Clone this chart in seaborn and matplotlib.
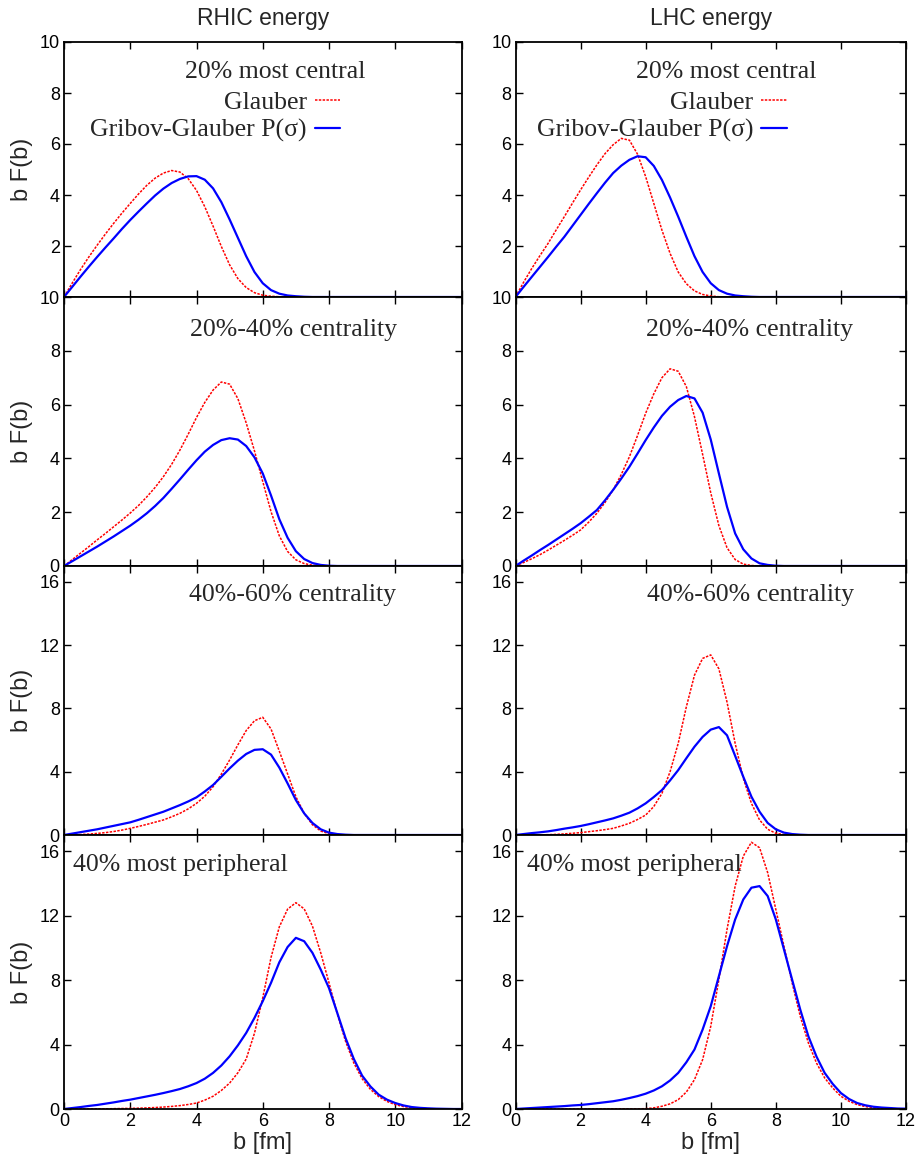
import matplotlib
matplotlib.use("Agg")
import matplotlib.pyplot as plt
import seaborn as sns

sns.set_style("ticks")
plt.rcParams['font.family'] = ['Liberation Sans', 'DejaVu Sans']

# impact parameter grid [fm]
B = [0, 0.25, 0.5, 0.75, 1, 1.25, 1.5, 1.75, 2, 2.25, 2.5, 2.75, 3, 3.25, 3.5, 3.75,
     4, 4.25, 4.5, 4.75, 5, 5.25, 5.5, 5.75, 6, 6.25, 6.5, 6.75, 7, 7.25, 7.5, 7.75,
     8, 8.25, 8.5, 8.75, 9, 9.25, 9.5, 9.75, 10, 10.25, 10.5, 10.75, 11, 11.25, 11.5, 11.75, 12]

# ---- RHIC energy ----
rhic_central_glauber = [0, 0.55, 1.08, 1.57, 2.03, 2.47, 2.89, 3.29, 3.67, 4.04, 4.38, 4.66, 4.86, 4.96, 4.90, 4.64,
                        4.18, 3.54, 2.78, 1.98, 1.26, 0.72, 0.37, 0.17, 0.07, 0.03, 0.01, 0, 0, 0, 0, 0,
                        0, 0, 0, 0, 0, 0, 0, 0, 0, 0, 0, 0, 0, 0, 0, 0, 0]
rhic_central_gribov = [0, 0.40, 0.80, 1.19, 1.57, 1.94, 2.30, 2.67, 3.02, 3.35, 3.67, 3.98, 4.25, 4.47, 4.63, 4.73,
                       4.74, 4.60, 4.26, 3.72, 3.04, 2.32, 1.60, 0.98, 0.54, 0.27, 0.13, 0.06, 0.03, 0.01, 0, 0,
                       0, 0, 0, 0, 0, 0, 0, 0, 0, 0, 0, 0, 0, 0, 0, 0, 0]
rhic_mid_glauber = [0, 0.24, 0.48, 0.72, 0.97, 1.21, 1.46, 1.71, 1.97, 2.25, 2.57, 2.92, 3.32, 3.78, 4.31, 4.90,
                    5.52, 6.08, 6.54, 6.84, 6.76, 6.22, 5.32, 4.28, 3.14, 2.02, 1.12, 0.54, 0.23, 0.09, 0.03, 0.01,
                    0, 0, 0, 0, 0, 0, 0, 0, 0, 0, 0, 0, 0, 0, 0, 0, 0]
rhic_mid_gribov = [0, 0.18, 0.36, 0.54, 0.72, 0.91, 1.10, 1.30, 1.50, 1.72, 1.96, 2.23, 2.53, 2.87, 3.22, 3.58,
                   3.93, 4.25, 4.50, 4.68, 4.75, 4.70, 4.46, 4.04, 3.44, 2.62, 1.74, 1.05, 0.55, 0.26, 0.11, 0.04,
                   0.01, 0, 0, 0, 0, 0, 0, 0, 0, 0, 0, 0, 0, 0, 0, 0, 0]
rhic_semi_glauber = [0, 0.01, 0.03, 0.06, 0.10, 0.15, 0.22, 0.31, 0.42, 0.54, 0.67, 0.81, 0.95, 1.15, 1.37, 1.65,
                     2.00, 2.45, 3.05, 3.85, 4.74, 5.70, 6.60, 7.22, 7.44, 6.70, 5.30, 3.86, 2.42, 1.37, 0.65, 0.25,
                     0.08, 0.02, 0, 0, 0, 0, 0, 0, 0, 0, 0, 0, 0, 0, 0, 0, 0]
rhic_semi_gribov = [0, 0.09, 0.18, 0.27, 0.36, 0.47, 0.58, 0.69, 0.80, 0.96, 1.13, 1.30, 1.47, 1.68, 1.89, 2.12,
                    2.38, 2.75, 3.16, 3.68, 4.21, 4.70, 5.12, 5.38, 5.42, 5.08, 4.26, 3.26, 2.21, 1.37, 0.76, 0.36,
                    0.15, 0.06, 0.02, 0, 0, 0, 0, 0, 0, 0, 0, 0, 0, 0, 0, 0, 0]
rhic_periph_glauber = [0, 0, 0, 0.01, 0.01, 0.01, 0.02, 0.03, 0.04, 0.05, 0.07, 0.09, 0.12, 0.16, 0.21, 0.28,
                       0.37, 0.55, 0.79, 1.15, 1.61, 2.25, 3.10, 4.70, 6.90, 9.40, 11.30, 12.40, 12.80, 12.42, 11.35, 9.69,
                       7.83, 5.90, 4.20, 2.85, 1.88, 1.22, 0.77, 0.47, 0.27, 0.15, 0.08, 0.04, 0.02, 0.01, 0, 0, 0]
rhic_periph_gribov = [0, 0.06, 0.12, 0.19, 0.25, 0.33, 0.41, 0.50, 0.58, 0.68, 0.78, 0.88, 0.99, 1.11, 1.24, 1.41,
                      1.61, 1.88, 2.24, 2.70, 3.27, 3.95, 4.72, 5.65, 6.69, 7.83, 9.10, 10.05, 10.62, 10.41, 9.69, 8.65,
                      7.50, 5.96, 4.40, 3.10, 2.07, 1.40, 0.89, 0.58, 0.37, 0.22, 0.12, 0.07, 0.04, 0.02, 0.01, 0, 0]

# ---- LHC energy ----
lhc_central_glauber = [0, 0.58, 1.12, 1.62, 2.10, 2.63, 3.15, 3.68, 4.20, 4.70, 5.18, 5.62, 5.97, 6.22, 6.15, 5.60,
                       4.72, 3.67, 2.62, 1.71, 0.98, 0.52, 0.24, 0.10, 0.04, 0.01, 0, 0, 0, 0, 0, 0,
                       0, 0, 0, 0, 0, 0, 0, 0, 0, 0, 0, 0, 0, 0, 0, 0, 0]
lhc_central_gribov = [0, 0.40, 0.79, 1.18, 1.57, 1.97, 2.36, 2.79, 3.22, 3.65, 4.07, 4.48, 4.86, 5.15, 5.38, 5.52,
                      5.48, 5.14, 4.59, 3.90, 3.15, 2.36, 1.60, 0.98, 0.54, 0.27, 0.13, 0.06, 0.03, 0.01, 0, 0,
                      0, 0, 0, 0, 0, 0, 0, 0, 0, 0, 0, 0, 0, 0, 0, 0, 0]
lhc_mid_glauber = [0, 0.13, 0.27, 0.42, 0.59, 0.77, 0.95, 1.14, 1.34, 1.63, 1.96, 2.36, 2.83, 3.40, 4.06, 4.85,
                   5.68, 6.40, 7.00, 7.33, 7.24, 6.67, 5.55, 4.15, 2.72, 1.50, 0.68, 0.24, 0.07, 0.02, 0, 0,
                   0, 0, 0, 0, 0, 0, 0, 0, 0, 0, 0, 0, 0, 0, 0, 0, 0]
lhc_mid_gribov = [0, 0.20, 0.39, 0.59, 0.78, 0.98, 1.18, 1.38, 1.59, 1.83, 2.08, 2.44, 2.83, 3.25, 3.69, 4.18,
                  4.68, 5.15, 5.58, 5.92, 6.17, 6.32, 6.23, 5.70, 4.70, 3.44, 2.20, 1.21, 0.62, 0.28, 0.10, 0.04,
                  0.01, 0, 0, 0, 0, 0, 0, 0, 0, 0, 0, 0, 0, 0, 0, 0, 0]
lhc_semi_glauber = [0, 0, 0.01, 0.01, 0.02, 0.04, 0.07, 0.11, 0.15, 0.21, 0.27, 0.34, 0.42, 0.57, 0.74, 0.98,
                    1.26, 1.80, 2.63, 4.00, 5.79, 8.10, 10.10, 11.16, 11.38, 10.50, 8.40, 5.79, 3.58, 2.00, 0.95, 0.36,
                    0.11, 0.03, 0, 0, 0, 0, 0, 0, 0, 0, 0, 0, 0, 0, 0, 0, 0]
lhc_semi_gribov = [0, 0.06, 0.12, 0.17, 0.23, 0.31, 0.40, 0.48, 0.57, 0.68, 0.80, 0.92, 1.05, 1.22, 1.41, 1.68,
                   2.00, 2.40, 2.84, 3.45, 4.10, 4.85, 5.58, 6.20, 6.66, 6.82, 6.30, 5.00, 3.68, 2.42, 1.47, 0.76,
                   0.36, 0.15, 0.06, 0.02, 0, 0, 0, 0, 0, 0, 0, 0, 0, 0, 0, 0, 0]
lhc_periph_glauber = [0, 0, 0, 0, 0, 0, 0, 0, 0, 0, 0, 0, 0.01, 0.01, 0.01, 0.01,
                      0.02, 0.07, 0.17, 0.32, 0.58, 1.05, 1.82, 3.06, 5.13, 8.03, 11.14, 13.83, 15.69, 16.55, 16.21, 14.66,
                      12.38, 10.10, 7.83, 5.76, 4.10, 2.85, 1.93, 1.30, 0.79, 0.48, 0.27, 0.15, 0.08, 0.04, 0.02, 0.01, 0]
lhc_periph_gribov = [0, 0.03, 0.06, 0.09, 0.12, 0.15, 0.18, 0.22, 0.25, 0.30, 0.36, 0.42, 0.48, 0.57, 0.68, 0.80,
                     0.95, 1.15, 1.41, 1.77, 2.24, 2.90, 3.69, 4.93, 6.38, 8.24, 10.10, 11.76, 13.00, 13.73, 13.83, 13.21,
                     11.76, 9.90, 8.03, 6.17, 4.51, 3.25, 2.24, 1.55, 0.99, 0.62, 0.37, 0.23, 0.14, 0.09, 0.06, 0.03, 0.02]

col_titles = ["RHIC energy", "LHC energy"]
row_labels = ["20% most central", "20%-40% centrality", "40%-60% centrality", "40% most peripheral"]
series_names = ["Glauber", "Gribov-Glauber P(σ)"]
x_ticks = [0, 2, 4, 6, 8, 10, 12]
y_ticks_top = [0, 2, 4, 6, 8, 10]
y_ticks_bottom = [0, 4, 8, 12, 16]

data = [
    [(rhic_central_glauber, rhic_central_gribov), (lhc_central_glauber, lhc_central_gribov)],
    [(rhic_mid_glauber, rhic_mid_gribov), (lhc_mid_glauber, lhc_mid_gribov)],
    [(rhic_semi_glauber, rhic_semi_gribov), (lhc_semi_glauber, lhc_semi_gribov)],
    [(rhic_periph_glauber, rhic_periph_gribov), (lhc_periph_glauber, lhc_periph_gribov)],
]

W, H = 917, 1166
fig = plt.figure(figsize=(W / 100, H / 100), dpi=100)
cols_px = [(64, 461.5), (515.5, 906)]
rows_px = [(42, 297), (297, 566), (566, 835), (835, 1109)]
ylims = [(0, 10), (0, 10), (0, 17), (0, 17)]

serif = 'Liberation Serif'
txt_size = 18.5
label_pos = [
    [(0.531, 0.882, 'center'), (0.539, 0.882, 'center')],
    [(0.317, 0.877, 'left'), (0.335, 0.877, 'left')],
    [(0.315, 0.892, 'left'), (0.336, 0.892, 'left')],
    [(0.023, 0.891, 'left'), (0.029, 0.891, 'left')],
]

for r, (yt, yb) in enumerate(rows_px):
    for c, (xl, xr) in enumerate(cols_px):
        ax = fig.add_axes([xl / W, 1 - yb / H, (xr - xl) / W, (yb - yt) / H])
        gl, gg = data[r][c]
        sns.lineplot(x=B, y=gl, ax=ax, color='#ff0000', lw=1.1, ls=(0, (1.6, 0.9)),
                     label=series_names[0])
        sns.lineplot(x=B, y=gg, ax=ax, color='#0000ff', lw=1.6, label=series_names[1])
        ax.set_xlim(0, 12)
        ax.set_ylim(*ylims[r])
        ax.set_xticks(x_ticks)
        yt_vals = y_ticks_top if r < 2 else y_ticks_bottom
        ax.set_yticks(yt_vals)
        if r == 0:
            # the "0" of this panel coincides with the "10" of the panel below
            ax.set_yticklabels(['' if v == 0 else str(v) for v in yt_vals])
        ax.tick_params(direction='in', top=True, right=True, length=5, width=1,
                       labelsize=13, pad=3, colors='black')
        for s in ax.spines.values():
            s.set_linewidth(1.3)
            s.set_color('black')
        if r < 3:
            ax.set_xticklabels([])
            ax.set_xlabel('')
        else:
            ax.set_xlabel('b [fm]', fontsize=17)
            ax.xaxis.set_label_coords(0.5, -0.085)
        if c == 0:
            ax.set_ylabel('b F(b)', fontsize=17)
            ax.yaxis.set_label_coords(-0.078, 0.5)
        else:
            ax.set_ylabel('')
        if r == 0:
            ax.legend(loc='upper right', bbox_to_anchor=(0.695, 0.806), markerfirst=False,
                      frameon=False, prop={'family': serif, 'size': txt_size},
                      handlelength=1.0, handletextpad=0.3, labelspacing=0.18,
                      borderaxespad=0, borderpad=0)
            fig.text(((xl + xr) / 2) / W, 1 - 18 / H, col_titles[c], ha='center', va='center',
                     fontsize=16.5)
        else:
            ax.get_legend().remove()
        lx, ly, ha = label_pos[r][c]
        ax.text(lx, ly, row_labels[r], transform=ax.transAxes, ha=ha, va='center',
                family=serif, fontsize=txt_size)

fig.savefig('out.png', dpi=100)
